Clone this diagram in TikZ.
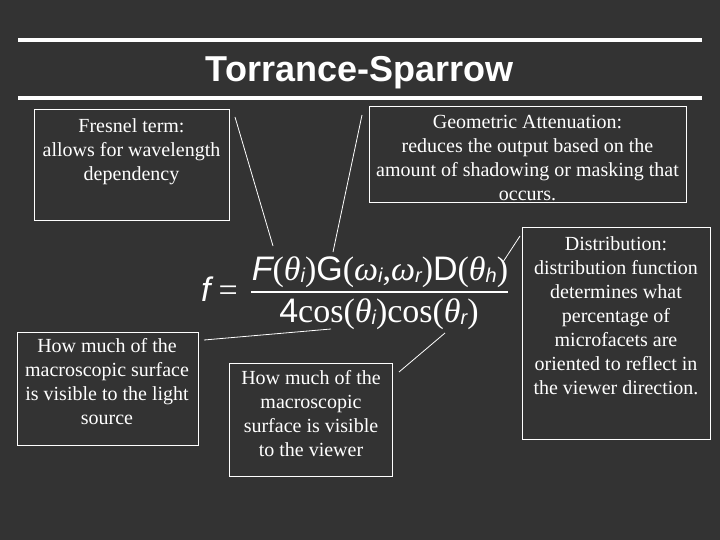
\documentclass[tikz,border=0pt]{standalone}
\usepackage{fontspec}
\setmainfont{Liberation Serif}
\setsansfont{Liberation Sans}
\newfontfamily\arialf{Liberation Sans}
\definecolor{bg}{HTML}{333333}
\newcommand\sfi[1]{{\arialf\itshape #1}}
\newcommand\tmi[1]{{\itshape #1}}
\newcommand\sbs[1]{\raisebox{-2pt}{\fontsize{20}{20}\selectfont\arialf\itshape #1}}
\begin{document}
\begin{tikzpicture}[x=1pt,y=-1pt,
  box/.style={draw=white, line width=1pt, inner sep=0, anchor=north west},
  lbl/.style={text=white, align=center, inner sep=0, font=\fontsize{20}{24}\selectfont},
  conn/.style={draw=white, line width=0.8pt},
  rulel/.style={draw=white, line width=3.5pt},
  formula/.style={text=white, inner sep=0, font=\fontsize{34}{34}\selectfont},
  ttl/.style={inner sep=0, anchor=base, font=\arialf\bfseries\fontsize{36}{36}\selectfont}]
\fill[bg] (0,0) rectangle (720,540);
\useasboundingbox (0,0) rectangle (720,540);
% title
\draw[rulel] (18,40) -- (702,40);
\draw[rulel] (18,98) -- (702,98);
\node[ttl, text=black!80] (titleS) at (361,83.5) {Torrance-Sparrow};
\node[ttl, text=white] (title) at (359.5,82) {Torrance-Sparrow};
% formula
\node[formula, anchor=base west] (feq) at (201,301) {\sfi{f}\hspace{8pt}=};
\node[formula, anchor=base] (num) at (380,280) {\sfi{F}(\tmi{θ}\sbs{i}){\arialf G}(\tmi{ω}\sbs{i},\tmi{ω}\sbs{r}){\arialf D}(\tmi{θ}\sbs{h})};
\node[formula, anchor=base] (den) at (379,322) {{\arialf 4}cos(\tmi{θ}\sbs{i})cos(\tmi{θ}\sbs{r})};
\draw[white, line width=1.5pt] (251,292) -- (508,292);
\coordinate (endF) at (273,246);
\coordinate (endG) at (333,252);
\coordinate (endD) at (503,262);
\coordinate (endL) at (331,329);
\coordinate (endV) at (445,333);
% boxes
\node[box, minimum width=195, minimum height=111] (fresB) at (34,109) {};
\node[lbl] (fresT) at (131.5,151.3) {Fresnel term:\\allows for wavelength\\dependency};
\node[box, minimum width=317, minimum height=96] (geoB) at (369,106) {};
\node[lbl] (geoT) at (527.5,158) {Geometric Attenuation:\\reduces the output based on the\\amount of shadowing or masking that\\occurs.};
\node[box, minimum width=188, minimum height=212] (disB) at (522,227) {};
\node[lbl] (disT) at (616,316.2) {Distribution:\\distribution function\\determines what\\percentage of\\microfacets are\\oriented to reflect in\\the viewer direction.};
\node[box, minimum width=181, minimum height=113] (litB) at (17,332) {};
\node[lbl] (litT) at (107,382) {How much of the\\macroscopic surface\\is visible to the light\\source};
\node[box, minimum width=163, minimum height=113] (viwB) at (229,363) {};
\node[lbl] (viwT) at (311,414) {How much of the\\macroscopic\\surface is visible\\to the viewer};
% connectors
\draw[conn] ([shift={(5,8)}]fresB.north east) -- (endF);
\draw[conn] ([shift={(-7,9)}]geoB.north west) -- (endG);
\draw[conn] ([shift={(-2,9)}]disB.north west) -- (endD);
\draw[conn] ([shift={(5,8)}]litB.north east) -- (endL);
\draw[conn] ([shift={(6,9)}]viwB.north east) -- (endV);
\end{tikzpicture}
\end{document}
